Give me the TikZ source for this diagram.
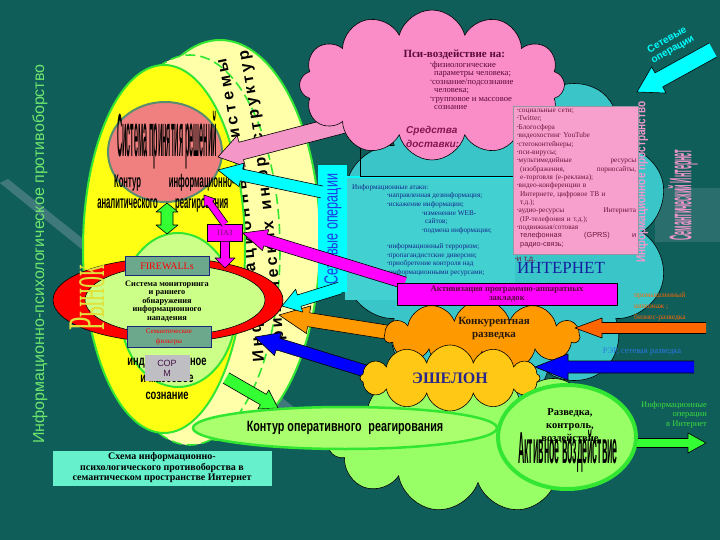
\documentclass[tikz,border=0pt]{standalone}
\usepackage{fontspec}
\usepackage{graphicx}
\setmainfont{Liberation Serif}
\setsansfont{Liberation Sans}
\usetikzlibrary{calc}
\usetikzlibrary{positioning}
\usetikzlibrary{shapes.geometric}
\usetikzlibrary{shapes.symbols}
\usetikzlibrary{decorations.text}
\definecolor{bgteal}{RGB}{16,94,90}
\definecolor{bandgrey}{RGB}{95,140,148}
\definecolor{titlegreen}{RGB}{110,230,110}
\definecolor{paleyellow}{RGB}{255,255,170}
\definecolor{lemon}{RGB}{255,255,20}
\definecolor{limeedge}{RGB}{50,230,50}
\definecolor{glowgreen}{RGB}{204,255,136}
\definecolor{salmonfill}{RGB}{240,128,128}
\definecolor{salmonedge}{RGB}{90,140,110}
\definecolor{ringred}{RGB}{255,0,0}
\definecolor{boxgreen}{RGB}{108,168,140}
\definecolor{boxblue}{RGB}{30,40,120}
\definecolor{sormgrey}{RGB}{190,190,195}
\definecolor{sormtext}{RGB}{70,20,70}
\definecolor{marketyellow}{RGB}{225,225,60}
\definecolor{netcyan}{RGB}{58,198,200}
\definecolor{infocyan}{RGB}{66,208,208}
\definecolor{brightcyan}{RGB}{0,255,255}
\definecolor{netblue}{RGB}{30,60,230}
\definecolor{psipink}{RGB}{250,140,200}
\definecolor{psitext}{RGB}{90,10,60}
\definecolor{mediapink}{RGB}{248,160,205}
\definecolor{mediatext}{RGB}{110,20,60}
\definecolor{mediaedge}{RGB}{150,150,160}
\definecolor{delivery}{RGB}{130,20,80}
\definecolor{attacktext}{RGB}{20,40,140}
\definecolor{internetblue}{RGB}{20,30,160}
\definecolor{vpink}{RGB}{240,150,205}
\definecolor{magentafill}{RGB}{255,0,255}
\definecolor{pazpurple}{RGB}{120,20,110}
\definecolor{rivalorange}{RGB}{255,153,0}
\definecolor{spyorange}{RGB}{255,102,0}
\definecolor{echelongold}{RGB}{255,200,20}
\definecolor{echelonblue}{RGB}{40,40,140}
\definecolor{meadow}{RGB}{153,255,102}
\definecolor{contourfill}{RGB}{170,255,110}
\definecolor{arrowpink}{RGB}{244,150,200}
\definecolor{arrowblue}{RGB}{0,0,255}
\definecolor{arrowgreen}{RGB}{51,255,51}
\definecolor{rerblue}{RGB}{40,120,230}
\definecolor{iogreen}{RGB}{60,220,60}
\definecolor{captiongreen}{RGB}{102,240,204}
\tikzset{puff/.style = {cloud, cloud puffs=#1, cloud ignores aspect, draw=black, line width=0.6pt}}
\tikzset{greybox/.style = {draw=boxblue, fill=boxgreen, line width=0.8pt, minimum width=84pt,
                           inner sep=1pt, text=ringred, align=center}}
\tikzset{fatline/.style = {draw=black, line width=0.6pt, line join=round}}
\tikzset{tallsans/.style = {font=\sffamily\bfseries\fontsize{16}{16}\selectfont}}
\tikzset{alongpath/.style = {decorate, decoration={text along path, text align={fit to path},
                             text={|\sffamily\bfseries\fontsize{16}{16}\selectfont|#1}}}}
\newcommand{\lbul}{\raisebox{0.3ex}{\scalebox{0.6}{•}}}
% block arrow: fill, half shaft, half head, head length, from, to
\newcommand{\fatarrow}[6]{%
  \coordinate (fabase) at ($(#6)!#4!(#5)$);
  \filldraw [fatline, fill=#1] ($(#5)!#2!90:(#6)$) -- ($(fabase)!#2!90:(#6)$)
    -- ($(fabase)!#3!90:(#6)$) -- (#6) -- ($(fabase)!#3!-90:(#6)$)
    -- ($(fabase)!#2!-90:(#6)$) -- ($(#5)!#2!-90:(#6)$);}
\begin{document}
\begin{tikzpicture}[x=1pt, y=-1pt]
  \useasboundingbox (0,0) rectangle (720,540);
  \fill [bgteal] (0,0) rectangle (720,540);
  \fill [bandgrey, opacity=0.6] (0,183) -- (8,179) -- (335,440) -- (326,447) -- cycle;
  \fill [bandgrey, opacity=0.35] (655,188) rectangle (720,242);

  % left group
  \filldraw [fill=paleyellow, draw=limeedge, line width=2pt] (220,240) ellipse [x radius=100, y radius=200];
  \filldraw [fill=paleyellow, draw=limeedge, line width=1.6pt, dash pattern=on 10pt off 5pt] (190,250) ellipse [x radius=90, y radius=195];
  \path [alongpath={Информационные системы}] (264,362) .. controls (254,250) and (244,140) .. (226,58);
  \path [alongpath={критических инфраструктур}] (284,352) .. controls (277,240) and (265,140) .. (248,50);
  \filldraw [fill=lemon, draw=limeedge, line width=2pt] (164,249) ellipse [x radius=81, y radius=184];
  \filldraw [fill=glowgreen, draw=limeedge, line width=2pt] (178,310) ellipse [x radius=58, y radius=77];
  \filldraw [fill=ringred, draw=black, line width=0.6pt] (168,300) ellipse [x radius=115, y radius=42];
  \filldraw [fill=glowgreen, draw=black, line width=0.6pt] (175,300) ellipse [x radius=90, y radius=35];
  \node [ellipse, fill=salmonfill, draw=salmonedge, line width=2pt, minimum width=114pt, minimum height=100pt] (decision) at (165,152) {};
  \node [tallsans] (dmtitle) at (167,140) {\scalebox{0.45}[3.8]{Система принятия решений}};
  \node [font=\sffamily\bfseries\fontsize{14}{16}\selectfont] (dmcontour) at (166,194)
    {\scalebox{0.55}[1.3]{\begin{tabular}{@{}c@{\hspace{20pt}}c@{}}Контур & информационно-\\ аналитического & реагирования\end{tabular}}};

  % internet cloud
  \node [puff=10, fill=netcyan, minimum width=330pt, minimum height=345pt] (net) at (505,232) {};
  \fill [infocyan] (345,177) rectangle (515,300);
  \draw [brightcyan, line width=1.5pt] (335,177) -- (515,177);
  \draw [black, line width=0.5pt] (360,95) -- (360,176) -- (516,176);
  \fill [brightcyan] (318,165) rectangle (347,292);
  \node [rotate=90, text=netblue, font=\sffamily\fontsize{19}{19}\selectfont] (netops) at (333,229) {\scalebox{0.66}[1]{Сетевые операции}};
  \node [anchor=north west, align=left, inner sep=0, text=attacktext, font=\fontsize{7.2}{8.7}\selectfont] (attacks) at (352,184)
    {Информационные атаки:\\
     \hspace*{35pt}\lbul направленная дезинформация;\\
     \hspace*{35pt}\lbul искажение информации;\\
     \hspace*{70pt}\lbul изменение WEB-\\
     \hspace*{73pt}сайтов;\\
     \hspace*{70pt}\lbul подмена информации;\\[7pt]
     \hspace*{35pt}\lbul информационный терроризм;\\
     \hspace*{35pt}\lbul пропагандистские диверсии;\\
     \hspace*{35pt}\lbul приобретение контроля над\\
     \hspace*{37pt}информационными ресурсами;\\
     \hspace*{35pt}\lbul и т.д.};
  \node [text=internetblue, font=\fontsize{17}{17}\selectfont] (internet) at (561,268) {ИНТЕРНЕТ};
  \node [rotate=90, text=vpink, font=\sffamily\bfseries\fontsize{10}{10}\selectfont] (infospace) at (642,182) {\scalebox{1}[1.3]{Информационное пространство}};
  \node [rotate=90, text=vpink, font=\sffamily\bfseries\fontsize{12}{12}\selectfont] (semnet) at (683,195) {\scalebox{0.6}[2.6]{Семантический Интернет}};

  % psi cloud
  \coordinate (pinkTail) at (352,122);
  \coordinate (pinkTip) at (218,157);
  \fatarrow{arrowpink}{9pt}{16pt}{24pt}{pinkTail}{pinkTip}
  \node [puff=12, fill=psipink, minimum width=265pt, minimum height=150pt] (psi) at (432,85) {};
  \node [anchor=west, text=psitext, font=\bfseries\fontsize{11}{11}\selectfont] (psititle) at (400,55) {Пси-воздействие на:};
  \node [anchor=north west, align=left, inner sep=0, text=psitext, font=\fontsize{8.6}{8.5}\selectfont] (psilist) at (430,61)
    {\lbul физиологические\\\hspace*{4pt}параметры человека;\\\lbul сознание/подсознание\\\hspace*{4pt}человека;\\\lbul групповое и массовое\\\hspace*{4pt}сознание};
  \node [anchor=north west, align=left, inner sep=0, text=delivery, font=\sffamily\bfseries\itshape\fontsize{10}{14}\selectfont] (delivery) at (406,126) {Средства\\доставки:};

  % media box
  \filldraw [fill=mediapink, draw=mediaedge, line width=1pt] (513,107) rectangle (638,254);
  \node [anchor=north west, align=left, text width=119pt, inner sep=0, text=mediatext, font=\fontsize{7.3}{8.35}\selectfont] (media) at (517,109)
    {\lbul социальные сети;\\\lbul Twitter;\\\lbul Блогосфера\\\lbul видеохостинг YouTube\\\lbul стегоконтейнеры;\\\lbul пси-вирусы;\\
     \lbul мультимедийные\hfill ресурсы\\\hspace*{3pt}(изображения,\hfill порносайты,\\\hspace*{3pt}е-торговля (е-реклама);\\
     \lbul видео-конференции в\\\hspace*{3pt}Интернете, цифровое ТВ и\\\hspace*{3pt}т.д.);\\
     \lbul аудио-ресурсы\hfill Интернета\\\hspace*{3pt}(IP-телефония и т.д.);\\\lbul подвижная/сотовая\\
     \hspace*{3pt}{\sffamily телефонная\hfill (GPRS)\hfill и}\\\hspace*{3pt}{\sffamily радио-связь;}};
  \node [anchor=north west, inner sep=0, text=mediatext, font=\sffamily\fontsize{8}{8}\selectfont] (etc) at (515,257) {\lbul и т.д.};

  % intelligence clouds
  \node [puff=11, fill=meadow, minimum width=300pt, minimum height=145pt] (meadowcloud) at (478,440) {};
  \coordinate (orangeTail) at (405,335);
  \coordinate (orangeTip) at (279,315);
  \fatarrow{rivalorange}{7pt}{14pt}{30pt}{orangeTail}{orangeTip}
  \coordinate (blueTail) at (372,373);
  \coordinate (blueTip) at (255,337);
  \fatarrow{arrowblue}{6pt}{12pt}{24pt}{blueTail}{blueTip}
  \node [puff=11, fill=rivalorange, minimum width=195pt, minimum height=72pt] (rival) at (482,336) {};
  \node [align=center, font=\bfseries\fontsize{11}{13}\selectfont, text=black!80!brown] (rivaltext) at (494,329) {Конкурентная\\разведка};
  \node [puff=12, fill=echelongold, minimum width=180pt, minimum height=66pt,
         font=\bfseries\fontsize{16}{16}\selectfont, text=echelonblue] (echelon) at (450,378) {ЭШЕЛОН};

  % arrows to decision loop
  \coordinate (cyanTailA) at (322,192);
  \coordinate (cyanTipA) at (218,170);
  \fatarrow{brightcyan}{6pt}{12pt}{24pt}{cyanTailA}{cyanTipA}
  \coordinate (cyanTailB) at (340,288);
  \coordinate (cyanTipB) at (282,306);
  \fatarrow{brightcyan}{6pt}{12pt}{18pt}{cyanTailB}{cyanTipB}
  \node [draw=black, fill=magentafill, minimum width=35pt, minimum height=17pt, inner sep=0,
         text=pazpurple, font=\fontsize{8}{8}\selectfont] (paz) at (225,233) {ПАЗ};
  \coordinate (activeTail) at (405,283);
  \fatarrow{magentafill}{6pt}{11pt}{24pt}{activeTail}{paz.east}
  \coordinate (decTip) at (204,195);
  \fatarrow{magentafill}{3.5pt}{7pt}{10pt}{paz.north}{decTip}
  \coordinate (ringTop) at (225,268);
  \fatarrow{magentafill}{4.5pt}{10pt}{10pt}{paz.south}{ringTop}
  \coordinate (dblMid) at (167,218);
  \coordinate (dblTop) at (167,203);
  \coordinate (dblBot) at (167,234);
  \fatarrow{arrowgreen}{6pt}{11pt}{9pt}{dblMid}{dblTop}
  \fatarrow{arrowgreen}{6pt}{11pt}{9pt}{dblMid}{dblBot}
  \node [draw=black, fill=magentafill, minimum width=220pt, minimum height=22pt, inner sep=0, align=center,
         text=psitext, font=\bfseries\fontsize{8.6}{9}\selectfont] (activation) at (507,294)
    {Активизация программно-аппаратных\\закладок};

  % operative loop
  \coordinate (greenTail) at (226,378);
  \coordinate (greenTip) at (278,408);
  \fatarrow{arrowgreen}{6pt}{11pt}{17pt}{greenTail}{greenTip}
  \coordinate (ioTip) at (706,443);
  \fatarrow{arrowgreen}{4.5pt}{10pt}{18pt}{620,443}{ioTip}
  \node [ellipse, fill=contourfill, draw=limeedge, line width=2.5pt, minimum width=304pt, minimum height=42pt,
         font=\sffamily\bfseries\fontsize{13}{13}\selectfont] (opcontour) at (345,428)
    {\scalebox{0.83}[1.15]{Контур оперативного\hspace{8pt}реагирования}};
  \node [ellipse, fill=meadow, draw=limeedge, line width=4pt, minimum width=138pt, minimum height=104pt] (recon) at (567,437) {};
  \node [align=center, font=\bfseries\fontsize{10.5}{13}\selectfont] (recontext) at (570,426) {Разведка,\\контроль,\\воздействие};
  \node [tallsans] (active) at (568,451) {\scalebox{0.55}[2.8]{Активное воздействие}};

  % outer arrows
  \coordinate (spyTail) at (706,328);
  \coordinate (spyTip) at (575,328);
  \fatarrow{spyorange}{5.5pt}{10pt}{27pt}{spyTail}{spyTip}
  \coordinate (rerTail) at (694,367);
  \coordinate (rerTip) at (535,367);
  \fatarrow{arrowblue}{6pt}{13pt}{33pt}{rerTail}{rerTip}
  \coordinate (opsTail) at (713,50);
  \coordinate (opsTip) at (637,92);
  \fatarrow{brightcyan}{8pt}{15pt}{25pt}{opsTail}{opsTip}
  \node [rotate=30, align=center, text=brightcyan, font=\sffamily\bfseries\fontsize{10}{11}\selectfont] (opslabel) at (670,45) {Сетевые\\операции};
  \node [anchor=north west, align=left, inner sep=0, text=spyorange, font=\fontsize{7.5}{11}\selectfont] (spylabel) at (634,292) {промышленный\\шпионаж ;\\бизнес-разведка};
  \node [text=rerblue, font=\fontsize{8.5}{8.5}\selectfont] (rerlabel) at (642,352) {РЭР, сетевая разведка};
  \node [anchor=north east, align=right, inner sep=0, text=iogreen, font=\fontsize{8.5}{9.5}\selectfont] (iolabel) at (707,401) {Информационные\\операции\\в Интернет};

  % inner boxes
  \node [greybox, minimum height=19pt, font=\fontsize{10}{10}\selectfont] (firewall) at (167,266) {FIREWALLs};
  \node [align=center, font=\bfseries\fontsize{8.3}{8.5}\selectfont] (monitor) at (167,301)
    {Система мониторинга\\и раннего\\обнаружения\\информационного\\нападения};
  \node [greybox, minimum height=21pt, font=\fontsize{7}{10}\selectfont] (semfilter) at (169,337) {Семантические\\фильтры};
  \node [font=\sffamily\bfseries\fontsize{12}{14.5}\selectfont] (mind) at (167,379)
    {\scalebox{0.78}[1.15]{\begin{tabular}{@{}c@{}}индивидуальное\\ и массовое\\ сознание\end{tabular}}};
  \node [fill=sormgrey, minimum width=45pt, minimum height=26pt, inner sep=0, align=center,
         text=sormtext, font=\sffamily\fontsize{9}{10}\selectfont] (sorm) at (167,368) {СОР\\М};
  \node [rotate=90, text=marketyellow, font=\fontsize{24}{24}\selectfont] (market) at (87,298) {\scalebox{1}[2.2]{Рынок}};

  % caption and title
  \node [fill=captiongreen, minimum width=219pt, minimum height=35pt, inner sep=0, align=center,
         font=\bfseries\fontsize{10}{10.5}\selectfont] (caption) at (162,468)
    {Схема информационно-\\психологического противоборства в\\семантическом пространстве Интернет};
  \node [rotate=90, text=titlegreen, font=\sffamily\fontsize{16}{16}\selectfont] (title) at (40,254) {Информационно-психологическое противоборство};
\end{tikzpicture}
\end{document}
